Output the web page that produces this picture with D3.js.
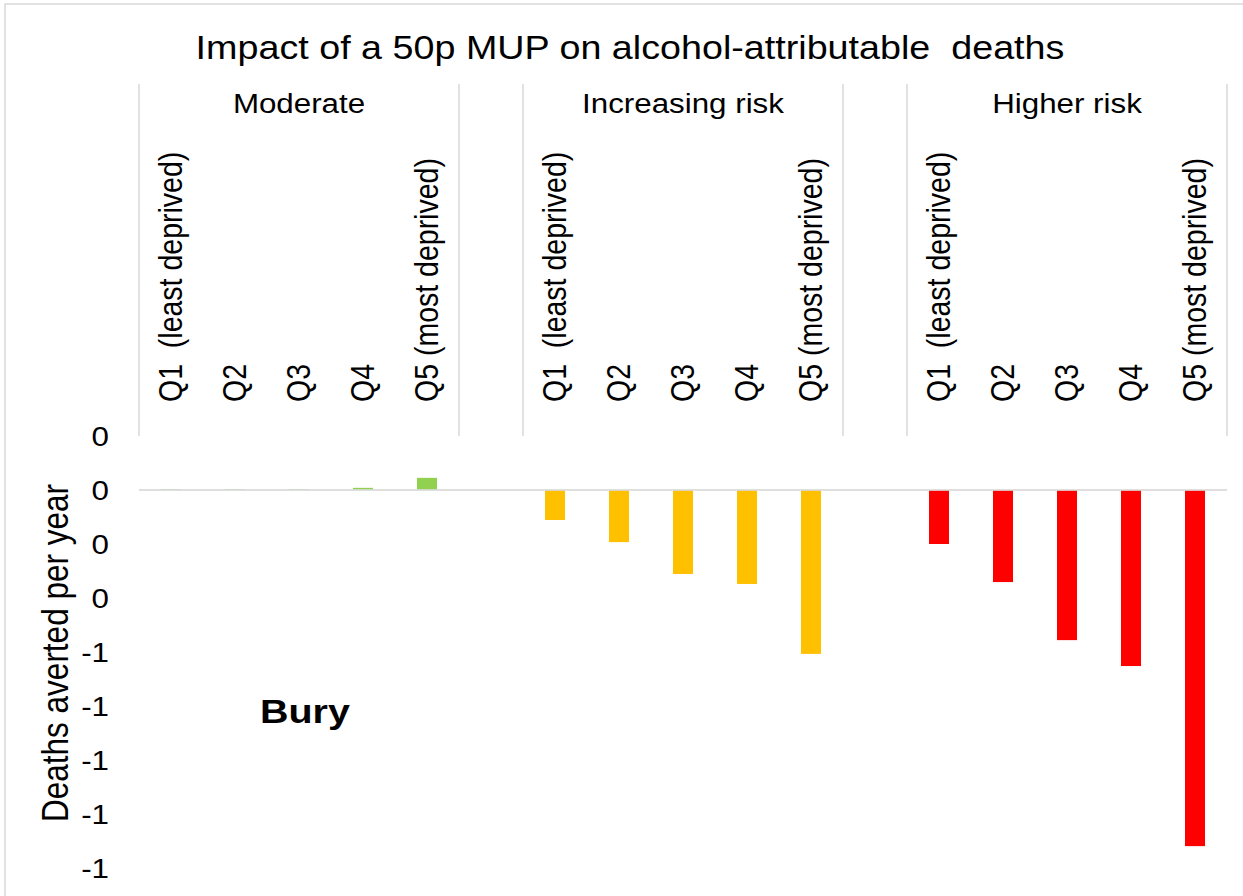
<!DOCTYPE html>
<html>
<head>
<meta charset="utf-8">
<script src="https://cdn.jsdelivr.net/npm/d3@7"></script>
<style>
  body { margin: 0; background: #fff; }
  text { font-family: Arial, "Liberation Sans", sans-serif; fill: #000; white-space: pre; }
</style>
</head>
<body>
<div id="chart"></div>
<script>
// data
const groups = ['Moderate', 'Increasing risk', 'Higher risk']
const quintiles = ['Q1  (least deprived)', 'Q2', 'Q3', 'Q4', 'Q5 (most deprived)']
const moderate = [0.003, 0.003, 0.003, 0.008, 0.045]
const increasing = [-0.111, -0.193, -0.311, -0.348, -0.607]
const higher = [-0.2, -0.341, -0.556, -0.652, -1.319]
const groupColors = ['#92D050', '#FFC000', '#FF0000']
const yTicks = [0.2, 0, -0.2, -0.4, -0.6, -0.8, -1.0, -1.2, -1.4]

const width = 1243
const height = 896
const sx = 1.16 // the original picture is stretched sideways a bit

const series = [moderate, increasing, higher]
var rows = []
var domain = []
groups.forEach(function (g, gi) {
  if (gi > 0) domain.push('gap' + gi)
  quintiles.forEach(function (q, qi) {
    var key = g + '|' + qi
    domain.push(key)
    rows.push({ key: key, group: g, gi: gi, label: q, value: series[gi][qi] })
  })
})

var svg = d3.select('#chart')
  .append('svg')
  .attr('width', width)
  .attr('height', height)

// outer chart border
svg.append('rect')
  .attr('x', 5).attr('y', 4)
  .attr('width', 1300).attr('height', 1000)
  .attr('fill', 'none')
  .attr('stroke', '#d9d9d9')
  .attr('stroke-width', 1.5)

var x = d3.scaleBand().domain(domain).range([139, 1227]).padding(0)
var y = d3.scaleLinear().domain([-1.4, 0.2]).range([868, 436])
var barW = 20

// title
svg.append('text')
  .attr('transform', 'translate(630,59) scale(' + sx + ',1)')
  .attr('text-anchor', 'middle')
  .attr('font-size', 32.5)
  .text('Impact of a 50p MUP on alcohol-attributable  deaths')

// y axis (labels only)
var yAxis = svg.append('g')
  .attr('transform', 'translate(109,0)')
  .call(d3.axisLeft(y).tickValues(yTicks).tickSize(0).tickPadding(0)
    .tickFormat(function (v) {
      var r = Math.round(v)
      return r === 0 ? '0' : String(r)
    }))
yAxis.select('.domain').remove()
yAxis.selectAll('text')
  .attr('x', 0)
  .attr('dy', '0.36em')
  .attr('transform', 'scale(' + sx + ',1)')
  .attr('font-size', 27)
  .attr('font-family', 'Arial, "Liberation Sans", sans-serif')
  .attr('fill', '#000')

svg.append('text')
  .attr('transform', 'translate(68,653) scale(' + sx + ',1) rotate(-90)')
  .attr('text-anchor', 'middle')
  .attr('font-size', 31.5)
  .text('Deaths averted per year')

// group separators on the category axis
groups.forEach(function (g, gi) {
  var first = x(g + '|0')
  var last = x(g + '|4') + x.bandwidth()
  ;[first, last].forEach(function (xx) {
    svg.append('line')
      .attr('x1', xx).attr('x2', xx)
      .attr('y1', 84).attr('y2', 436)
      .attr('stroke', '#d9d9d9')
      .attr('stroke-width', 1.5)
  })
  svg.append('text')
    .attr('transform', 'translate(' + ((first + last) / 2) + ',113) scale(' + sx + ',1)')
    .attr('text-anchor', 'middle')
    .attr('font-size', 27)
    .text(g)
})

// rotated quintile labels
svg.selectAll('.qlabel')
  .data(rows)
  .enter().append('text')
  .attr('class', 'qlabel')
  .attr('transform', function (d) {
    return 'translate(' + (x(d.key) + x.bandwidth() / 2) + ',402) scale(' + sx + ',1) rotate(-90)'
  })
  .attr('dy', '0.33em')
  .attr('font-size', 28.5)
  .text(function (d) { return d.label })

// bars
svg.selectAll('.bar')
  .data(rows)
  .enter().append('rect')
  .attr('class', 'bar')
  .attr('x', function (d) { return x(d.key) + (x.bandwidth() - barW) / 2 })
  .attr('width', barW)
  .attr('y', function (d) { return y(Math.max(0, d.value)) })
  .attr('height', function (d) { return Math.abs(y(d.value) - y(0)) })
  .attr('fill', function (d) { return groupColors[d.gi] })

// zero line
svg.append('line')
  .attr('x1', 139).attr('x2', 1227)
  .attr('y1', y(0)).attr('y2', y(0))
  .attr('stroke', '#d9d9d9')
  .attr('stroke-opacity', 0.85)
  .attr('stroke-width', 2)

svg.append('text')
  .attr('transform', 'translate(260,723) scale(' + sx + ',1)')
  .attr('font-size', 34)
  .attr('font-weight', 'bold')
  .text('Bury')
</script>
</body>
</html>
